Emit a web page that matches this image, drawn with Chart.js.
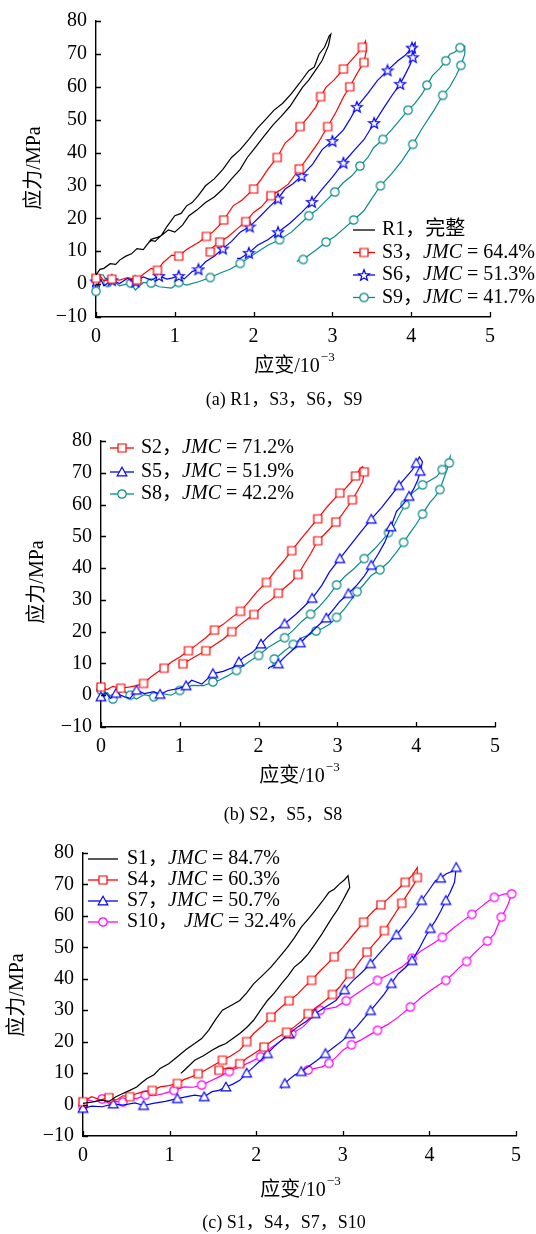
<!DOCTYPE html>
<html>
<head>
<meta charset="utf-8">
<script src="https://cdn.jsdelivr.net/npm/chart.js@4.4.0/dist/chart.umd.min.js"></script>
<style>
  body { margin: 0; background: #fff; width: 536px; height: 1234px; position: relative; overflow: hidden; }
  canvas { position: absolute; left: 0; }
</style>
</head>
<body>
<canvas id="chartA" width="536" height="420" style="top:0px"></canvas>
<canvas id="chartB" width="536" height="410" style="top:420px"></canvas>
<canvas id="chartC" width="536" height="404" style="top:830px"></canvas>
<script>
// ---- data: [strain (10^-3), stress (MPa)] ----
const seriesR1 = [[0,2.8],[0.05,4.5],[0.1,4.8],[0.18,6.2],[0.25,6.0],[0.3,7.3],[0.38,8.5],[0.45,9.2],[0.52,10.8],[0.6,10.5],[0.7,13.6],[0.78,14.2],[0.83,14.8],[0.9,17.5],[1.0,20.8],[1.08,21.5],[1.15,23.8],[1.22,24.8],[1.3,27.0],[1.39,29.9],[1.5,32.0],[1.61,34.9],[1.72,38.5],[1.83,40.9],[1.94,44.0],[2.05,47.4],[2.15,50.0],[2.26,52.9],[2.37,55.0],[2.48,57.9],[2.58,61.0],[2.7,64.9],[2.77,66.0],[2.83,69.9],[2.9,72.0],[2.96,75.5],[2.98,76.0],
  [2.95,72.5],[2.87,68.0],[2.8,65.5],[2.7,62.0],[2.62,59.8],[2.57,58.0],[2.46,54.0],[2.35,51.0],[2.25,48.5],[2.13,44.9],[2.0,40.9],[1.92,38.5],[1.83,34.9],[1.72,32.0],[1.61,28.9],[1.5,26.5],[1.39,24.8],[1.28,22.5],[1.18,20.8],[1.1,18.0],[1.0,15.8],[0.92,16.5],[0.83,14.8],[0.75,13.0],[0.7,13.3],[0.68,12.8]];
const seriesS3 = [[0,1.8],[0.05,2.5],[0.1,1.0],[0.2,1.5],[0.3,1.2],[0.4,2.0],[0.52,1.3],[0.6,3.0],[0.7,4.8],[0.78,4.2],[0.85,6.5],[0.96,8.8],[1.05,8.5],[1.15,10.5],[1.31,12.8],[1.4,14.5],[1.48,15.8],[1.55,17.5],[1.62,19.5],[1.74,23.8],[1.85,25.5],[2.0,28.9],[2.1,32.0],[2.18,34.9],[2.3,38.5],[2.4,42.9],[2.5,45.0],[2.59,47.9],[2.7,51.0],[2.79,53.9],[2.85,57.0],[2.92,59.9],[3.02,62.0],[3.14,65.4],[3.22,67.5],[3.31,69.9],[3.38,72.0],[3.42,73.9],
  [3.43,70.9],[3.4,67.4],[3.35,65.5],[3.31,63.9],[3.22,60.0],[3.14,56.9],[3.05,52.5],[2.94,47.9],[2.82,43.0],[2.7,38.9],[2.58,35.0],[2.44,30.4],[2.33,28.5],[2.22,26.9],[2.1,23.5],[2.0,21.8],[1.9,19.0],[1.79,16.8],[1.68,14.5],[1.57,12.8],[1.5,11.5],[1.46,10.8],[1.45,9.8]];
const seriesS6 = [[0,0.8],[0.06,1.5],[0.1,-0.5],[0.2,1.2],[0.3,0.2],[0.4,1.8],[0.5,0.8],[0.6,2.2],[0.7,1.2],[0.8,2.5],[0.9,1.5],[0.96,1.8],[1.05,2.5],[1.12,1.6],[1.22,3.8],[1.3,4.5],[1.39,6.8],[1.5,8.5],[1.61,10.8],[1.72,13.0],[1.83,15.8],[1.95,17.5],[2.09,20.8],[2.2,23.5],[2.31,26.0],[2.4,28.9],[2.5,30.5],[2.61,32.9],[2.75,36.5],[2.87,40.9],[3.0,43.5],[3.14,46.9],[3.22,50.0],[3.31,53.9],[3.45,58.0],[3.57,61.9],[3.7,65.0],[3.83,67.9],[3.92,69.5],[4.01,71.9],[4.05,73.4],
  [4.05,71.9],[4.02,69.0],[3.99,66.9],[3.93,64.0],[3.86,60.9],[3.76,57.5],[3.66,53.9],[3.53,49.0],[3.4,43.9],[3.27,40.5],[3.14,36.9],[3.0,32.5],[2.87,28.9],[2.74,25.0],[2.61,21.8],[2.46,18.5],[2.31,15.8],[2.18,13.5],[2.05,11.8],[1.94,9.5],[1.83,7.8],[1.79,7.8]];
const seriesS9 = [[0,-2.2],[0.05,2.8],[0.09,2.8],[0.15,0.5],[0.2,1.2],[0.3,-0.5],[0.44,0.3],[0.5,-1.8],[0.6,0.5],[0.7,0.3],[0.8,-0.8],[0.96,-1.2],[1.05,0.5],[1.15,-0.3],[1.31,0.8],[1.45,2.0],[1.57,3.3],[1.7,4.5],[1.83,6.3],[2.0,9.0],[2.18,11.8],[2.33,13.5],[2.48,15.8],[2.6,18.5],[2.7,20.8],[2.8,22.5],[2.92,25.4],[3.03,28.0],[3.14,30.9],[3.25,33.0],[3.35,35.9],[3.45,38.5],[3.52,41.4],[3.64,44.0],[3.75,46.9],[3.86,50.0],[3.96,52.9],[4.05,55.0],[4.14,57.9],[4.2,60.5],[4.27,63.4],[4.36,65.5],[4.44,67.9],[4.49,69.9],[4.55,70.5],[4.62,71.9],[4.68,72.4],
  [4.68,69.9],[4.63,66.5],[4.57,63.4],[4.49,60.0],[4.4,57.4],[4.28,52.5],[4.14,47.4],[4.02,42.5],[3.88,37.4],[3.75,33.5],[3.61,29.9],[3.5,26.0],[3.4,22.3],[3.27,19.5],[3.14,16.8],[3.03,14.5],[2.92,12.8],[2.8,10.5],[2.7,8.8],[2.63,7.5],[2.57,7.3],[2.55,6.8]];

const seriesS2 = [[0,2.6],[0.08,1.8],[0.15,2.8],[0.25,2.2],[0.37,2.6],[0.45,3.0],[0.54,3.7],[0.62,5.5],[0.72,7.3],[0.8,8.5],[0.89,10.4],[1.0,12.0],[1.11,14.0],[1.22,16.0],[1.33,18.1],[1.44,20.5],[1.55,22.3],[1.66,24.5],[1.77,26.4],[1.88,29.5],[1.98,32.6],[2.1,35.5],[2.2,38.8],[2.31,42.0],[2.42,45.5],[2.53,49.0],[2.64,52.3],[2.75,55.5],[2.86,59.0],[2.95,61.5],[3.03,63.6],[3.1,65.0],[3.16,66.7],[3.23,69.0],[3.29,71.4],[3.32,71.9],
  [3.34,70.3],[3.32,67.2],[3.26,64.5],[3.19,61.5],[3.12,59.0],[3.06,56.9],[2.98,54.5],[2.9,52.3],[2.83,50.5],[2.75,48.6],[2.66,44.5],[2.57,40.9],[2.5,38.0],[2.42,35.7],[2.33,33.8],[2.25,32.1],[2.16,30.0],[2.07,28.5],[1.94,25.4],[1.86,24.0],[1.77,22.3],[1.66,20.0],[1.55,17.6],[1.44,15.8],[1.33,14.0],[1.22,12.5],[1.11,10.9],[1.04,9.9]];
const seriesS5 = [[0,-0.5],[0.06,0.8],[0.12,-1.0],[0.19,0.6],[0.3,-0.5],[0.37,-1.0],[0.45,1.6],[0.55,0.5],[0.67,1.1],[0.75,0.3],[0.85,1.5],[0.98,2.1],[1.08,3.0],[1.15,4.7],[1.28,3.5],[1.42,6.8],[1.55,7.5],[1.68,8.8],[1.75,10.5],[1.81,11.9],[1.92,13.5],[2.03,16.1],[2.12,18.5],[2.2,20.2],[2.33,22.5],[2.47,25.4],[2.58,28.0],[2.68,30.5],[2.8,34.5],[2.9,38.8],[3.03,43.0],[3.16,47.1],[3.3,51.5],[3.43,55.4],[3.56,59.0],[3.69,63.1],[3.78,66.0],[3.86,68.3],[3.95,70.9],[4.0,73.0],[4.04,75.0],
  [4.08,73.4],[4.05,70.5],[4.02,67.7],[3.97,65.0],[3.91,62.6],[3.83,60.0],[3.75,57.9],[3.68,53.0],[3.6,48.1],[3.52,44.5],[3.43,40.9],[3.34,37.5],[3.25,34.7],[3.14,32.0],[3.03,29.5],[2.95,27.0],[2.86,24.3],[2.75,21.8],[2.64,19.2],[2.53,16.5],[2.42,14.0],[2.33,12.0],[2.25,9.9],[2.14,8.8],[2.12,8.3]];
const seriesS8 = [[0,1.6],[0.02,-1.0],[0.08,0.8],[0.15,-1.2],[0.22,0.5],[0.28,1.5],[0.37,0.0],[0.45,-1.2],[0.55,0.2],[0.67,-0.5],[0.78,0.5],[0.89,0.0],[1.0,1.5],[1.15,3.1],[1.3,3.0],[1.42,4.2],[1.5,4.7],[1.6,6.0],[1.72,7.8],[1.82,9.5],[1.9,10.9],[2.0,12.5],[2.12,15.0],[2.22,16.5],[2.33,18.1],[2.44,20.5],[2.55,23.3],[2.66,25.5],[2.77,27.9],[2.88,31.0],[2.99,34.7],[3.1,37.5],[3.21,39.8],[3.34,43.0],[3.47,46.0],[3.56,48.5],[3.65,51.2],[3.72,53.5],[3.78,56.4],[3.86,60.0],[3.95,63.6],[4.02,65.0],[4.08,66.2],[4.17,67.5],[4.26,68.8],[4.33,71.0],[4.39,72.9],[4.43,75.0],
  [4.42,73.1],[4.39,70.9],[4.34,67.5],[4.3,64.7],[4.24,62.5],[4.17,60.5],[4.08,57.0],[4.0,53.8],[3.92,51.0],[3.84,48.1],[3.75,45.0],[3.65,41.9],[3.54,39.5],[3.43,37.7],[3.34,35.0],[3.25,32.6],[3.16,29.5],[3.08,26.9],[2.99,24.5],[2.9,22.3],[2.81,21.0],[2.73,20.2],[2.64,19.0],[2.55,18.1],[2.44,16.0],[2.33,14.0],[2.26,12.5],[2.2,11.4],[2.18,9.3],[2.16,8.8]];

const seriesS1 = [[0,0.4],[0.1,0.8],[0.22,1.4],[0.3,1.0],[0.38,2.5],[0.46,3.5],[0.54,4.5],[0.62,5.6],[0.68,7.0],[0.74,8.3],[0.82,9.5],[0.89,11.5],[0.99,13.0],[1.09,15.2],[1.19,17.5],[1.29,19.4],[1.37,21.0],[1.45,23.6],[1.53,27.0],[1.61,30.0],[1.71,31.5],[1.81,33.1],[1.89,35.5],[1.97,38.4],[2.07,41.0],[2.17,43.7],[2.27,47.0],[2.36,50.0],[2.44,53.0],[2.52,56.4],[2.6,59.0],[2.68,61.7],[2.76,64.5],[2.84,67.5],[2.9,68.5],[2.96,70.1],[3.02,71.5],[3.06,72.8],
  [3.08,69.1],[3.04,67.0],[3.0,64.9],[2.94,62.0],[2.88,59.6],[2.82,57.0],[2.76,54.3],[2.68,51.0],[2.6,47.9],[2.52,45.5],[2.44,43.7],[2.37,41.0],[2.29,38.4],[2.21,35.5],[2.13,33.1],[2.05,30.0],[1.97,26.8],[1.89,24.5],[1.81,22.6],[1.73,21.0],[1.65,19.4],[1.57,18.5],[1.49,17.3],[1.39,15.5],[1.29,14.1],[1.23,12.5],[1.17,10.9],[1.13,9.9]];
const seriesS4 = [[0,0.9],[0.1,2.5],[0.2,1.5],[0.3,2.2],[0.38,1.4],[0.46,2.8],[0.54,2.5],[0.62,3.5],[0.7,4.1],[0.8,4.5],[0.89,5.6],[0.99,6.0],[1.09,6.7],[1.17,8.0],[1.25,8.8],[1.33,9.8],[1.41,10.9],[1.51,12.5],[1.61,14.1],[1.71,15.5],[1.81,17.3],[1.89,20.0],[1.97,22.6],[2.07,25.0],[2.17,27.8],[2.23,29.5],[2.29,31.0],[2.38,33.0],[2.48,35.2],[2.56,37.5],[2.64,39.5],[2.72,42.0],[2.8,44.2],[2.9,47.0],[3.0,50.0],[3.12,54.0],[3.24,58.0],[3.3,60.0],[3.36,61.7],[3.44,63.5],[3.52,65.4],[3.62,68.0],[3.72,70.7],[3.8,72.8],[3.86,75.4],
  [3.86,72.2],[3.82,70.0],[3.76,67.5],[3.68,64.0],[3.6,60.6],[3.54,58.0],[3.48,55.3],[3.42,53.0],[3.36,51.1],[3.28,48.5],[3.2,45.8],[3.14,43.5],[3.08,41.6],[3.02,39.5],[2.96,37.3],[2.88,35.0],[2.8,33.1],[2.7,31.0],[2.6,28.9],[2.52,26.5],[2.44,24.7],[2.35,23.0],[2.25,21.5],[2.17,20.0],[2.09,18.3],[1.99,16.5],[1.89,14.7],[1.81,13.0],[1.73,11.5],[1.65,11.5],[1.57,10.9]];
const seriesS7 = [[0,-1.2],[0.1,-0.5],[0.22,-0.7],[0.35,0.2],[0.46,-0.2],[0.6,0.5],[0.7,-0.3],[0.81,0.4],[0.95,1.0],[1.09,1.9],[1.2,2.5],[1.29,3.0],[1.4,2.5],[1.49,4.1],[1.57,4.5],[1.65,5.6],[1.73,6.5],[1.81,7.7],[1.89,10.0],[1.97,12.0],[2.05,14.0],[2.13,16.2],[2.21,18.5],[2.29,20.4],[2.38,22.5],[2.48,24.7],[2.58,26.5],[2.68,28.9],[2.8,31.0],[2.92,33.1],[3.02,36.5],[3.12,39.5],[3.22,42.0],[3.32,44.8],[3.42,48.0],[3.52,51.1],[3.62,54.0],[3.72,57.4],[3.82,61.0],[3.91,64.9],[3.99,68.0],[4.07,71.2],[4.13,72.0],[4.19,73.3],[4.27,74.3],[4.31,75.4],
  [4.29,70.7],[4.24,67.5],[4.19,64.9],[4.13,61.5],[4.07,58.5],[4.01,56.0],[3.95,53.2],[3.88,49.5],[3.8,45.8],[3.72,43.5],[3.64,41.6],[3.56,38.5],[3.48,35.2],[3.4,32.5],[3.32,29.9],[3.24,27.3],[3.16,24.7],[3.08,22.5],[3.0,20.4],[2.9,18.3],[2.8,16.2],[2.7,14.0],[2.6,12.0],[2.52,10.5],[2.44,9.3],[2.38,8.0],[2.33,6.7],[2.29,5.1]];
const seriesS10 = [[0,-0.7],[0.06,1.5],[0.14,0.9],[0.22,1.8],[0.3,0.4],[0.38,1.0],[0.46,0.8],[0.54,2.0],[0.62,1.9],[0.72,3.0],[0.82,2.8],[0.93,3.5],[1.05,4.5],[1.17,5.6],[1.27,5.5],[1.37,6.2],[1.47,7.5],[1.57,8.8],[1.69,10.5],[1.81,12.0],[1.93,13.5],[2.05,15.2],[2.17,18.0],[2.29,20.4],[2.41,22.5],[2.54,24.7],[2.64,27.5],[2.74,30.0],[2.83,30.5],[2.92,31.0],[3.04,33.0],[3.16,35.2],[3.28,37.5],[3.4,39.5],[3.54,41.5],[3.68,43.7],[3.8,46.5],[3.91,49.0],[4.03,51.0],[4.15,53.2],[4.27,56.0],[4.39,58.5],[4.49,60.5],[4.59,62.7],[4.67,64.5],[4.75,65.9],[4.81,66.5],[4.87,67.0],[4.95,67.0],
  [4.91,63.8],[4.87,61.5],[4.83,59.6],[4.79,57.0],[4.75,54.3],[4.67,52.0],[4.59,50.0],[4.51,47.9],[4.43,45.5],[4.35,43.7],[4.27,41.5],[4.19,39.5],[4.05,37.0],[3.91,34.2],[3.78,31.0],[3.64,27.8],[3.52,25.5],[3.4,23.6],[3.3,22.0],[3.2,20.4],[3.1,19.0],[3.0,17.3],[2.92,15.0],[2.84,13.1],[2.76,12.0],[2.68,11.5],[2.6,11.0],[2.56,10.4]];

// legend names and joint matching coefficients (JMC, %)
const namesA = ['R1', 'S3', 'S6', 'S9'];
const jmcA = [null, 64.4, 51.3, 41.7];
const namesB = ['S2', 'S5', 'S8'];
const jmcB = [71.2, 51.9, 42.2];
const namesC = ['S1', 'S4', 'S7', 'S10'];
const jmcC = [84.7, 60.3, 50.7, 32.4];

// axis ticks
const strainTicks = [0, 1, 2, 3, 4, 5];
const stressTicks = [-10, 0, 10, 20, 30, 40, 50, 60, 70, 80];

const FONT = '"Liberation Serif", "Times New Roman", "Noto Sans CJK SC", serif';
const RED = '#ff0000', BLUE = '#0000ff', TEAL = '#0a8a8a', MAGENTA = '#ff00ff', BLACK = '#000000';

// hollow marker drawn once into a small canvas, used as point style
function markerImg(kind, color) {
  const c = document.createElement('canvas');
  c.width = 14; c.height = 14;
  const g = c.getContext('2d');
  g.strokeStyle = color;
  g.fillStyle = '#fff';
  g.lineWidth = 1.2;
  g.beginPath();
  if (kind === 'rect') {
    g.rect(3, 3, 8, 8);
  } else if (kind === 'circle') {
    g.arc(7, 7, 4.2, 0, Math.PI * 2);
  } else if (kind === 'triangle') {
    g.moveTo(7, 2.2); g.lineTo(11.8, 10.8); g.lineTo(2.2, 10.8); g.closePath();
  } else if (kind === 'star') {
    for (let k = 0; k < 10; k++) {
      const r = k % 2 === 0 ? 5.8 : 2.4;
      const a = -Math.PI / 2 + k * Math.PI / 5;
      const px = 7 + r * Math.cos(a), py = 7.5 + r * Math.sin(a);
      if (k === 0) g.moveTo(px, py); else g.lineTo(px, py);
    }
    g.closePath();
  }
  g.fill();
  g.stroke();
  return c;
}

function makeDataset(name, jmc, pairs, color, kind) {
  const img = kind ? markerImg(kind, color) : null;
  return {
    label: name,
    jmc: jmc,
    marker: img,
    data: pairs.map(p => ({ x: p[0], y: p[1] })),
    showLine: true,
    borderColor: color,
    backgroundColor: color,
    borderWidth: 1.2,
    tension: 0,
    clip: false,
    pointStyle: img || false,
    pointRadius: img ? (ctx => (ctx.dataIndex % 3 === 0 ? 4 : 0)) : 0,
    pointHoverRadius: 0
  };
}

// inward tick marks on left and bottom axes
const innerTicks = {
  id: 'innerTicks',
  afterDatasetsDraw(chart) {
    const { ctx, chartArea: a, scales: { x, y } } = chart;
    ctx.save();
    ctx.strokeStyle = '#000';
    ctx.lineWidth = 1.3;
    ctx.beginPath();
    strainTicks.forEach(v => {
      const px = Math.round(x.getPixelForValue(v)) + 0.5;
      ctx.moveTo(px, a.bottom);
      ctx.lineTo(px, a.bottom - 5);
    });
    stressTicks.forEach(v => {
      const py = Math.round(y.getPixelForValue(v)) + 0.5;
      ctx.moveTo(a.left, py);
      ctx.lineTo(a.left + 5, py);
    });
    ctx.stroke();
    ctx.restore();
  }
};

// axis titles and panel caption
const panelText = {
  id: 'panelText',
  afterDraw(chart, args, opts) {
    const ctx = chart.ctx;
    ctx.save();
    ctx.fillStyle = '#000';
    ctx.textBaseline = 'middle';

    ctx.save();
    ctx.translate(opts.yTitle[0], opts.yTitle[1]);
    ctx.rotate(-Math.PI / 2);
    ctx.textAlign = 'center';
    ctx.font = '20px ' + FONT;
    ctx.fillText('应力/MPa', 0, 0);
    ctx.restore();

    const main = '应变/10', sup = '\u22123';
    ctx.font = '20px ' + FONT;
    const w1 = ctx.measureText(main).width;
    ctx.font = '13px ' + FONT;
    const w2 = ctx.measureText(sup).width;
    const x0 = opts.xTitle[0] - (w1 + w2) / 2;
    ctx.textAlign = 'left';
    ctx.font = '20px ' + FONT;
    ctx.fillText(main, x0, opts.xTitle[1]);
    ctx.font = '13px ' + FONT;
    ctx.fillText(sup, x0 + w1 + 1, opts.xTitle[1] - 9);

    ctx.font = '18px ' + FONT;
    ctx.textAlign = 'center';
    ctx.fillText(opts.caption, opts.captionPos[0], opts.captionPos[1]);
    ctx.restore();
  }
};

// legend: line + marker, then "name，JMC = xx.x%" with italic JMC
const jmcLegend = {
  id: 'jmcLegend',
  afterDraw(chart, args, opts) {
    const ctx = chart.ctx;
    ctx.save();
    ctx.textBaseline = 'middle';
    ctx.textAlign = 'left';
    chart.data.datasets.forEach((ds, i) => {
      const y = opts.rows[i];
      const x1 = opts.x, x2 = opts.x + opts.len;
      ctx.strokeStyle = ds.borderColor;
      ctx.lineWidth = 1.3;
      ctx.beginPath();
      ctx.moveTo(x1, y);
      ctx.lineTo(x2, y);
      ctx.stroke();
      if (ds.marker) ctx.drawImage(ds.marker, (x1 + x2) / 2 - 7, y - 7);

      ctx.fillStyle = '#000';
      let tx = opts.textX;
      ctx.font = '20px ' + FONT;
      const head = ds.label + '，';
      ctx.fillText(head, tx, y);
      tx += ctx.measureText(head).width + (opts.gaps ? opts.gaps[i] : 0);
      if (ds.jmc == null) {
        ctx.fillText('完整', tx, y);
      } else {
        ctx.font = 'italic 20px ' + FONT;
        ctx.fillText('JMC', tx, y);
        tx += ctx.measureText('JMC').width;
        ctx.font = '20px ' + FONT;
        ctx.fillText(' = ' + ds.jmc.toFixed(1) + '%', tx, y);
      }
    });
    ctx.restore();
  }
};

function makeChart(id, datasets, box, text, legend) {
  const tickFont = { family: FONT, size: 20 };
  return new Chart(document.getElementById(id), {
    type: 'scatter',
    data: { datasets: datasets },
    plugins: [innerTicks, panelText, jmcLegend],
    options: {
      responsive: false,
      animation: false,
      devicePixelRatio: 1,
      layout: { padding: { top: box.top, right: box.right, left: 0, bottom: 0 } },
      plugins: {
        legend: { display: false },
        tooltip: { enabled: false },
        panelText: text,
        jmcLegend: legend
      },
      scales: {
        x: {
          type: 'linear', min: 0, max: 5,
          afterFit: s => { s.height = box.xHeight; },
          afterBuildTicks: s => { s.ticks = strainTicks.map(v => ({ value: v })); },
          ticks: { color: '#000', font: tickFont, padding: 8 },
          grid: { display: false, drawTicks: false },
          border: { display: true, color: '#000', width: 1.4 }
        },
        y: {
          type: 'linear', min: -10, max: 80,
          afterFit: s => { s.width = box.yWidth; },
          afterBuildTicks: s => { s.ticks = stressTicks.map(v => ({ value: v })); },
          ticks: {
            color: '#000', font: tickFont, padding: 9,
            callback: v => (v < 0 ? '\u2212' + Math.abs(v) : String(v))
          },
          grid: { display: false, drawTicks: false },
          border: { display: true, color: '#000', width: 1.4 }
        }
      }
    }
  });
}

// (a) R1, S3, S6, S9
makeChart('chartA', [
  makeDataset(namesA[0], jmcA[0], seriesR1, BLACK, null),
  makeDataset(namesA[1], jmcA[1], seriesS3, RED, 'rect'),
  makeDataset(namesA[2], jmcA[2], seriesS6, BLUE, 'star'),
  makeDataset(namesA[3], jmcA[3], seriesS9, TEAL, 'circle')
], { top: 17, right: 46, yWidth: 96, xHeight: 103 },
{ yTitle: [35, 168], xTitle: [294, 367], caption: '(a) R1，S3，S6，S9', captionPos: [284, 400] },
{ x: 353, len: 22, textX: 382, rows: [230, 252.5, 275, 297.5] });

// (b) S2, S5, S8
makeChart('chartB', [
  makeDataset(namesB[0], jmcB[0], seriesS2, RED, 'rect'),
  makeDataset(namesB[1], jmcB[1], seriesS5, BLUE, 'triangle'),
  makeDataset(namesB[2], jmcB[2], seriesS8, TEAL, 'circle')
], { top: 17, right: 41, yWidth: 101, xHeight: 103 },
{ yTitle: [38, 162], xTitle: [299, 357], caption: '(b) S2，S5，S8', captionPos: [283, 395] },
{ x: 110, len: 24, textX: 141, rows: [28, 52, 74] });

// (c) S1, S4, S7, S10
makeChart('chartC', [
  makeDataset(namesC[0], jmcC[0], seriesS1, BLACK, null),
  makeDataset(namesC[1], jmcC[1], seriesS4, RED, 'rect'),
  makeDataset(namesC[2], jmcC[2], seriesS7, BLUE, 'triangle'),
  makeDataset(namesC[3], jmcC[3], seriesS10, MAGENTA, 'circle')
], { top: 23, right: 20, yWidth: 83, xHeight: 98 },
{ yTitle: [18, 165], xTitle: [300, 361], caption: '(c) S1，S4，S7，S10', captionPos: [284, 393] },
{ x: 88, len: 30, textX: 127, rows: [29, 50, 71, 92], gaps: [0, 0, 0, 6] });
</script>
</body>
</html>
